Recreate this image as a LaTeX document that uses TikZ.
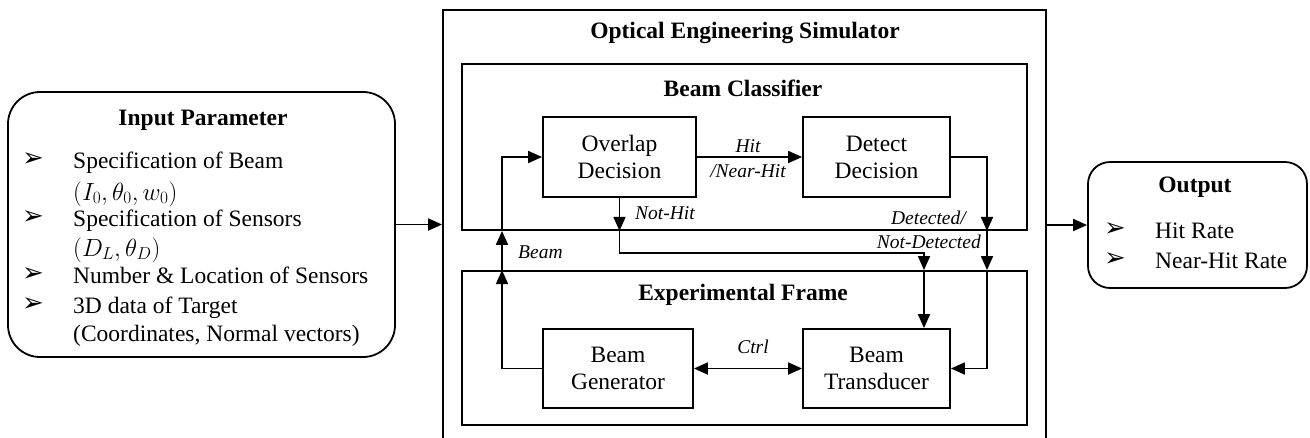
\documentclass[tikz,border=0pt]{standalone}
\usepackage{fontspec}
\setmainfont{Liberation Serif}
\newfontfamily\dejavu{DejaVu Sans}
\usetikzlibrary{arrows.meta}
\tikzset{
 lbl/.style={font=\fontsize{19.5}{23}\selectfont\itshape, inner sep=0pt},
 ttl/.style={font=\fontsize{23.5}{28}\selectfont\bfseries, inner sep=0pt},
 blk/.style={draw, line width=1.8pt, align=center, inner sep=0pt, font=\fontsize{23.5}{27}\selectfont},
 frame/.style={draw, line width=1.8pt, inner sep=0pt},
 conn/.style={line width=1.8pt},
 tip/.style={conn, -{Triangle[length=14pt,width=12pt]}},
 bul/.style={font=\dejavu\fontsize{26}{30}\selectfont, inner sep=0pt, anchor=center},
 itm/.style={font=\fontsize{23.5}{28}\selectfont, inner sep=0pt, anchor=base west},
}
\begin{document}
\begin{tikzpicture}[x=1pt,y=-1pt]
\useasboundingbox (0,0) rectangle (1310,437);
\clip (0,0) rectangle (1310,437);
% containers
\node[frame, rounded corners=32pt, minimum width=387pt, minimum height=265pt] (inp) at (201.5,224.5) {};
\node[frame, minimum width=603pt, minimum height=460pt] (sim) at (744.5,240) {};
\node[frame, minimum width=565pt, minimum height=166pt] (bc) at (744.5,147) {};
\node[frame, minimum width=565pt, minimum height=154pt] (ef) at (744.5,348) {};
\node[frame, rounded corners=22pt, minimum width=219pt, minimum height=126pt] (out) at (1197.5,225) {};
% blocks
\node[blk, minimum width=153pt, minimum height=80pt] (od) at (619.5,157) {Overlap\\Decision};
\node[blk, minimum width=147pt, minimum height=80pt] (dd) at (876.5,157) {Detect\\Decision};
\node[blk, minimum width=150pt, minimum height=79pt] (bg) at (618,368.5) {Beam\\Generator};
\node[blk, minimum width=147pt, minimum height=79pt] (bt) at (876.5,368.5) {Beam\\Transducer};
% titles
\node[ttl] (simT) at (745,33) {Optical Engineering Simulator};
\node[ttl] (bcT) at (743,88) {Beam Classifier};
\node[ttl] (efT) at (743,295) {Experimental Frame};
\node[ttl] (inpT) at (203,120) {Input Parameter};
\node[ttl] (outT) at (1195,187) {Output};
% input items
\node[bul] (b1) at (33,160) {\symbol{"27A2}};
\node[itm] (i1) at (73,168) {Specification of Beam};
\node[itm] (i2) at (73,200) {$(I_0,\theta_0,w_0)$};
\node[bul] (b2) at (33,218) {\symbol{"27A2}};
\node[itm] (i3) at (73,226) {Specification of Sensors};
\node[itm] (i4) at (73,256) {$(D_L,\theta_D)$};
\node[bul] (b3) at (33,275) {\symbol{"27A2}};
\node[itm] (i5) at (73,283) {Number \& Location of Sensors};
\node[bul] (b4) at (33,305) {\symbol{"27A2}};
\node[itm] (i6) at (73,313) {3D data of Target};
\node[itm] (i7) at (73,341) {(Coordinates, Normal vectors)};
% output items
\node[bul] (b5) at (1115,230) {\symbol{"27A2}};
\node[itm] (o1) at (1155,238) {Hit Rate};
\node[bul] (b6) at (1115,260) {\symbol{"27A2}};
\node[itm] (o2) at (1155,268) {Near-Hit Rate};
% labels
\node[lbl] (hitL) at (748,146) {Hit};
\node[lbl] (nhL) at (748,171) {/Near-Hit};
\node[lbl, anchor=west] (nothitL) at (635,213) {Not-Hit};
\node[lbl, anchor=west] (beamL) at (518,252) {Beam};
\node[lbl, anchor=east] (detL) at (966,218) {Detected/};
\node[lbl, anchor=east] (ndetL) at (981,242) {Not-Detected};
\node[lbl] (ctrlL) at (753,347) {Ctrl};
% coordinates
\coordinate (bx) at (502,0);
\coordinate (nh) at (924,253);
\coordinate (dx) at (987,0);
% connectors
\draw[tip] (inp.east) -- (inp.east -| sim.west);
\draw[tip] (sim.east |- out.west) -- (out.west);
\draw[tip] (od.east) -- (dd.west);
\draw[tip] (bg.west) -| (bx |- ef.north);
\draw[tip] (bx |- ef.north) -- (bx |- bc.south);
\draw[tip] (bx |- bc.south) |- (od.west);
\draw[tip] (od.south) -- (od.south |- bc.south);
\draw[tip] (od.south |- bc.south) |- (nh) -- (nh |- ef.north);
\draw[tip] (nh |- ef.north) -- (nh |- bt.north);
\draw[tip] (dd.east) -| (dx |- bc.south);
\draw[tip] (dx |- bc.south) -- (dx |- ef.north);
\draw[tip] (dx |- ef.north) |- (bt.east);
\draw[conn, {Triangle[length=14pt,width=12pt]}-{Triangle[length=14pt,width=12pt]}] (bg.east) -- (bt.west);
\end{tikzpicture}
\end{document}
